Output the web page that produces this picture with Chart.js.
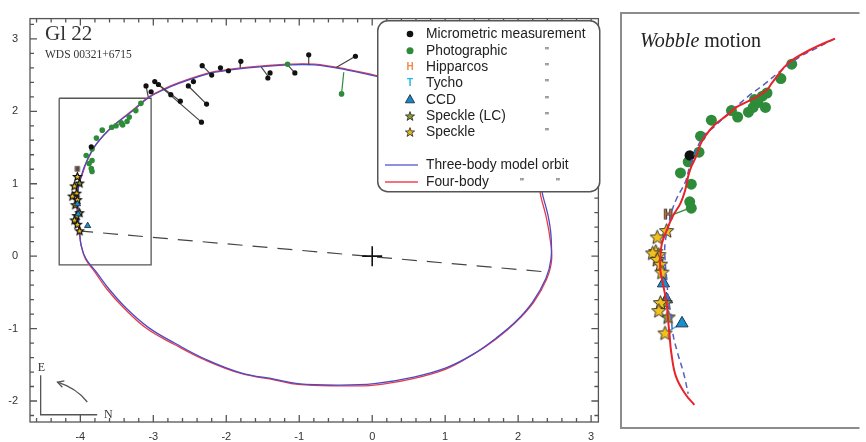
<!DOCTYPE html>
<html lang="en">
<head>
<meta charset="UTF-8">
<title>Gl 22 orbit</title>
<script src="https://cdn.jsdelivr.net/npm/chart.js@4"></script>
<style>
  body { margin: 0; background: #fff; }
  #wrap { position: relative; width: 866px; height: 442px; overflow: hidden;
          font-family: "Liberation Sans", Arial, sans-serif; }
  canvas { position: absolute; top: 0; }
  #orbit { left: 0; }
  #wobble { left: 612px; }
  .lbl { position: absolute; white-space: nowrap; color: #222; }
  .serif { font-family: "Liberation Serif", "Times New Roman", serif; }
  .leg { position: absolute; white-space: nowrap; font-size: 13.8px; line-height: 16px; color: #222; }
  .ditto { position: absolute; font-size: 11px; line-height: 16px; color: #333; }
  #legendBox { position: absolute; left: 377px; top: 20px; }
</style>
</head>
<body>
<div id="wrap">
  <canvas id="orbit" width="610" height="442"></canvas>
  <canvas id="wobble" width="254" height="442"></canvas>

  <div class="lbl serif" style="left:45px;top:23.4px;font-size:21px;line-height:21px;color:#333">Gl 22</div>
  <div class="lbl serif" style="left:45px;top:48.4px;font-size:11.5px;line-height:12px;color:#333">WDS 00321+6715</div>
  <div class="lbl serif" style="left:37.7px;top:360.8px;font-size:12px;line-height:12px;color:#333">E</div>
  <div class="lbl serif" style="left:104px;top:408px;font-size:12px;line-height:12px;color:#333">N</div>

  <svg id="legendBox" width="224" height="174" viewBox="0 0 224 174">
    <rect x="0.75" y="0.75" width="222" height="171" rx="10" ry="10" fill="#fff" stroke="#555" stroke-width="1.5"/>
    <circle cx="33" cy="14" r="3.3" fill="#111"/>
    <circle cx="33" cy="30.7" r="3.5" fill="#2e8b3a"/>
    <text x="33" y="50.3" text-anchor="middle" font-family="Liberation Sans, Arial" font-weight="bold" font-size="10" fill="#f08a4b">H</text>
    <text x="33" y="66.3" text-anchor="middle" font-family="Liberation Sans, Arial" font-weight="bold" font-size="10" fill="#27b5ea">T</text>
    <polygon points="33,74.6 37.6,82.8 28.4,82.8" fill="#1b86c4" stroke="#123" stroke-width="0.8"/>
    <polygon fill="#8d9b35" stroke="#222" stroke-width="0.8"
      points="33,91.6 34.2,94.9 37.6,95.0 34.9,97.1 35.9,100.4 33,98.4 30.1,100.4 31.1,97.1 28.4,95.0 31.8,94.9"/>
    <polygon fill="#e8b820" stroke="#222" stroke-width="0.8"
      points="33,107.6 34.2,110.9 37.6,111.0 34.9,113.1 35.9,116.4 33,114.4 30.1,116.4 31.1,113.1 28.4,111.0 31.8,110.9"/>
    <line x1="8" y1="145" x2="41" y2="145" stroke="#6b6bd6" stroke-width="1.5"/>
    <line x1="8" y1="162" x2="41" y2="162" stroke="#f04650" stroke-width="1.5"/>
  </svg>

  <div class="leg" style="left:426px;top:26.2px">Micrometric measurement</div>
  <div class="leg" style="left:426px;top:42.9px">Photographic</div>
  <div class="leg" style="left:426px;top:58.9px">Hipparcos</div>
  <div class="leg" style="left:426px;top:74.9px">Tycho</div>
  <div class="leg" style="left:426px;top:91.5px">CCD</div>
  <div class="leg" style="left:426px;top:108.2px">Speckle (LC)</div>
  <div class="leg" style="left:426px;top:124.2px">Speckle</div>
  <div class="leg" style="left:426px;top:157.2px">Three-body model orbit</div>
  <div class="leg" style="left:426px;top:174.2px">Four-body</div>
  <div class="ditto" style="left:545px;top:42.9px">"</div>
  <div class="ditto" style="left:545px;top:58.9px">"</div>
  <div class="ditto" style="left:545px;top:74.9px">"</div>
  <div class="ditto" style="left:545px;top:91.5px">"</div>
  <div class="ditto" style="left:545px;top:108.2px">"</div>
  <div class="ditto" style="left:545px;top:124.2px">"</div>
  <div class="ditto" style="left:520px;top:174.2px">"</div>
  <div class="ditto" style="left:556px;top:174.2px">"</div>

  <div class="lbl serif" style="left:640px;top:30.25px;font-size:20px;line-height:20px;color:#222"><i>Wobble</i> motion</div>
</div>

<script>
// ---- main orbit (arcsec) ----
const xTicks = [-4, -3, -2, -1, 0, 1, 2, 3];
const yTicks = [-2, -1, 0, 1, 2, 3];

const orbitThreeBody = [[-4.03,0.56],[-4.03,0.91],[-3.99,1.10],[-3.91,1.32],[-3.78,1.55],[-3.57,1.78],[-3.29,2.00],[-3.06,2.19],[-2.83,2.31],[-2.61,2.40],[-2.38,2.48],[-2.15,2.54],[-1.70,2.60],[-1.16,2.64],[-0.79,2.64],[-0.34,2.57],[0.03,2.49],[0.61,2.38],[1.16,2.20],[1.63,1.96],[2.00,1.62],[2.25,1.21],[2.34,0.83],[2.41,0.56],[2.45,0.29],[2.45,-0.04],[2.38,-0.31],[2.20,-0.63],[1.97,-0.90],[1.70,-1.13],[1.39,-1.35],[1.02,-1.54],[0.57,-1.67],[0.03,-1.76],[-0.48,-1.78],[-1.02,-1.76],[-1.33,-1.70],[-1.80,-1.61],[-2.29,-1.42],[-2.69,-1.21],[-3.06,-0.99],[-3.37,-0.72],[-3.61,-0.45],[-3.78,-0.22],[-3.92,-0.04],[-3.99,0.15],[-4.01,0.37],[-4.03,0.56]];
const orbitFourBody = [[-4.04,0.56],[-4.05,0.91],[-3.98,1.11],[-3.90,1.33],[-3.77,1.56],[-3.56,1.79],[-3.29,2.01],[-3.06,2.20],[-2.83,2.32],[-2.61,2.41],[-2.38,2.49],[-2.15,2.55],[-1.70,2.61],[-1.16,2.65],[-0.79,2.65],[-0.34,2.58],[0.03,2.50],[0.61,2.38],[1.16,2.20],[1.63,1.96],[2.00,1.62],[2.24,1.21],[2.31,0.83],[2.38,0.56],[2.43,0.29],[2.46,-0.04],[2.39,-0.32],[2.21,-0.64],[1.96,-0.92],[1.69,-1.15],[1.38,-1.36],[1.01,-1.56],[0.56,-1.69],[0.03,-1.78],[-0.48,-1.79],[-1.02,-1.77],[-1.33,-1.71],[-1.80,-1.62],[-2.30,-1.43],[-2.71,-1.22],[-3.09,-1.00],[-3.40,-0.72],[-3.64,-0.45],[-3.80,-0.22],[-3.93,-0.04],[-3.99,0.16],[-4.02,0.37],[-4.04,0.56]];

const micrometric = [[-3.10,2.35],[-3.03,2.27],[-2.98,2.41],[-2.93,2.37],[-2.76,2.23],[-2.63,2.14],[-2.34,1.85],[-2.52,2.35],[-2.45,2.41],[-2.27,2.10],[-2.33,2.63],[-2.20,2.50],[-2.08,2.60],[-1.97,2.56],[-1.80,2.69],[-1.43,2.46],[-1.40,2.53],[-1.06,2.53],[-0.87,2.78],[-0.23,2.76],[-3.85,1.51]];
const microResidFrom = [[-2.98,2.41],[-2.93,2.37],[-2.52,2.35],[-2.33,2.63],[-1.80,2.69],[-1.41,2.46],[-1.06,2.53],[-0.87,2.78],[-0.23,2.76],[-3.10,2.35]];
const microResidTo = [[-2.34,1.85],[-2.63,2.14],[-2.27,2.10],[-2.20,2.50],[-1.81,2.60],[-1.52,2.61],[-1.16,2.64],[-0.87,2.64],[-0.50,2.60],[-3.07,2.20]];

const photographic = [[-3.70,1.74],[-3.78,1.63],[-3.84,1.48],[-3.92,1.39],[-3.88,1.28],[-3.84,1.32],[-3.85,1.21],[-3.84,1.17],[-3.57,1.78],[-3.51,1.80],[-3.44,1.84],[-3.42,1.81],[-3.36,1.86],[-3.33,1.92],[-3.24,2.01],[-3.17,2.11],[-0.42,2.24],[-1.16,2.65]];
const photoResidFrom = [[-0.42,2.24]];
const photoResidTo = [[-0.39,2.54]];

const speckle = [[-4.04,1.10],[-4.08,0.97],[-4.05,0.87],[-4.11,0.83],[-4.04,0.78],[-4.07,0.71],[-4.05,0.56],[-4.08,0.50],[-4.04,0.44],[-4.01,0.35]];
const speckleLC = [[-4.01,1.01],[-4.01,0.60]];
const ccd = [[-4.04,0.72],[-4.03,0.58],[-3.90,0.42]];
const hipparcos = [[-4.04,1.22]];

const apsides = [[-4.03,0.35],[2.41,-0.22]];
const centre = [[0,0]];
const wobbleBox = [[-4.29,2.18],[-3.03,2.18],[-3.03,-0.12],[-4.29,-0.12],[-4.29,2.18]];

// ---- wobble close-up ----
const wobbleFourBody = [[-2.91,2.19],[-3.05,2.13],[-3.18,2.06],[-3.24,2.01],[-3.28,1.96],[-3.32,1.91],[-3.35,1.87],[-3.41,1.83],[-3.49,1.79],[-3.55,1.76],[-3.61,1.71],[-3.69,1.65],[-3.75,1.58],[-3.78,1.53],[-3.81,1.45],[-3.84,1.39],[-3.86,1.33],[-3.88,1.24],[-3.91,1.16],[-3.96,1.08],[-4.00,0.99],[-4.03,0.91],[-4.04,0.83],[-4.04,0.74],[-4.02,0.64],[-4.00,0.54],[-3.99,0.43],[-3.98,0.33],[-3.97,0.23],[-3.94,0.08],[-3.88,-0.03],[-3.82,-0.10]];
const wobbleThreeBody = [[-2.91,2.19],[-3.01,2.14],[-3.13,2.08],[-3.26,1.99],[-3.36,1.91],[-3.47,1.83],[-3.59,1.73],[-3.69,1.64],[-3.76,1.58],[-3.81,1.49],[-3.85,1.39],[-3.88,1.29],[-3.93,1.20],[-3.97,1.10],[-3.99,1.01],[-4.01,0.91],[-4.01,0.81],[-4.00,0.70],[-3.99,0.58],[-3.97,0.45],[-3.96,0.35],[-3.93,0.23],[-3.89,0.10],[-3.86,-0.03]];
const wobblePhoto = [[-3.19,2.03],[-3.26,1.94],[-3.35,1.85],[-3.38,1.83],[-3.36,1.76],[-3.43,1.81],[-3.41,1.79],[-3.47,1.73],[-3.44,1.76],[-3.58,1.74],[-3.54,1.70],[-3.71,1.68],[-3.78,1.58],[-3.79,1.48],[-3.86,1.42],[-3.91,1.35],[-3.84,1.28],[-3.85,1.17],[-3.84,1.13]];
const wobbleMicro = [[-3.85,1.46]];
const wobbleHip = [[-3.99,1.09]];
const wobbleSpeckle = [[-4.00,0.99],[-4.06,0.95],[-4.07,0.86],[-4.05,0.84],[-4.09,0.85],[-4.06,0.81],[-4.04,0.78],[-4.03,0.73],[-4.04,0.54],[-4.05,0.49],[-4.01,0.35]];
const wobbleSpeckleLC = [[-4.01,0.54],[-3.99,0.45]];
const wobbleCCD = [[-4.02,0.66],[-4.00,0.56],[-3.90,0.41]];
const wobbleHipLink = [[-3.96,1.09],[-3.85,1.13]];
const wobbleCcdLink = [[-3.90,0.41],[-4.01,0.35]];

Chart.defaults.font.family = '"Liberation Sans", Arial, sans-serif';
Chart.defaults.color = '#333';

const pts = a => a.map(([x, y]) => ({ x, y }));

function starImage(R, fill, stroke, lw) {
  const s = Math.ceil(2 * R + 2 * lw + 2);
  const c = document.createElement('canvas');
  c.width = c.height = s;
  const g = c.getContext('2d');
  g.translate(s / 2, s / 2 + R * 0.08);
  g.beginPath();
  for (let i = 0; i < 10; i++) {
    const r = i % 2 ? R * 0.45 : R;
    const a = -Math.PI / 2 + i * Math.PI / 5;
    g.lineTo(r * Math.cos(a), r * Math.sin(a));
  }
  g.closePath();
  g.fillStyle = fill; g.fill();
  g.lineWidth = lw; g.strokeStyle = stroke; g.stroke();
  return c;
}

function letterImage(ch, size, fill, stroke) {
  const c = document.createElement('canvas');
  c.width = c.height = size + 4;
  const g = c.getContext('2d');
  g.font = 'bold ' + size + 'px "Liberation Sans", Arial';
  g.textAlign = 'center'; g.textBaseline = 'middle';
  g.lineWidth = 1.5; g.strokeStyle = stroke;
  g.strokeText(ch, c.width / 2, c.height / 2 + 1);
  g.fillStyle = fill;
  g.fillText(ch, c.width / 2, c.height / 2 + 1);
  return c;
}

function curve(data, color, width, extra) {
  return Object.assign({ data: pts(data), showLine: true, borderColor: color, borderWidth: width,
    pointRadius: 0, tension: 0.4, fill: false }, extra || {});
}
function marks(data, style, radius, bg, border, bw) {
  return { data: pts(data), showLine: false, pointStyle: style, pointRadius: radius,
    backgroundColor: bg, borderColor: border, borderWidth: bw };
}
function segments(from, to, color) {
  return from.map((p, i) => curve([p, to[i]], color, 1.2, { tension: 0 }));
}

// frame with inward ticks every 0.2", compass rose
const orbitFrame = {
  id: 'orbitFrame',
  afterDraw(chart) {
    const { ctx, chartArea: a, scales: { x, y } } = chart;
    ctx.save();
    ctx.strokeStyle = '#555';
    ctx.lineWidth = 1.3;
    ctx.strokeRect(a.left, a.top, a.right - a.left, a.bottom - a.top);
    ctx.beginPath();
    for (let k = -25; k <= 16; k++) {
      const v = k / 5, px = x.getPixelForValue(v);
      if (px <= a.left + 1 || px >= a.right - 1) continue;
      const len = k % 5 === 0 ? 7 : 4;
      ctx.moveTo(px, a.bottom); ctx.lineTo(px, a.bottom - len);
      ctx.moveTo(px, a.top); ctx.lineTo(px, a.top + len);
    }
    for (let k = -12; k <= 17; k++) {
      const v = k / 5, py = y.getPixelForValue(v);
      if (py <= a.top + 1 || py >= a.bottom - 1) continue;
      const len = k % 5 === 0 ? 7 : 4;
      ctx.moveTo(a.left, py); ctx.lineTo(a.left + len, py);
      ctx.moveTo(a.right, py); ctx.lineTo(a.right - len, py);
    }
    ctx.stroke();

    // E / N directions and sense of motion
    const P = (u, v) => [x.getPixelForValue(u), y.getPixelForValue(v)];
    ctx.strokeStyle = '#555';
    ctx.lineWidth = 1.3;
    ctx.beginPath();
    ctx.moveTo(...P(-4.544, -1.646));
    ctx.lineTo(...P(-4.544, -2.190));
    ctx.lineTo(...P(-3.769, -2.190));
    ctx.stroke();
    const s = P(-3.905, -2.014), c = P(-4.054, -1.823), t = P(-4.313, -1.741);
    ctx.beginPath();
    ctx.moveTo(...s);
    ctx.quadraticCurveTo(c[0], c[1], t[0], t[1]);
    ctx.stroke();
    const ang = Math.atan2(t[1] - c[1], t[0] - c[0]);
    ctx.beginPath();
    ctx.moveTo(t[0] - 7 * Math.cos(ang - 0.5), t[1] - 7 * Math.sin(ang - 0.5));
    ctx.lineTo(t[0], t[1]);
    ctx.lineTo(t[0] - 7 * Math.cos(ang + 0.5), t[1] - 7 * Math.sin(ang + 0.5));
    ctx.stroke();
    ctx.restore();
  }
};

const wobbleFrame = {
  id: 'wobbleFrame',
  afterDraw(chart) {
    const { ctx, chartArea: a } = chart;
    ctx.save();
    ctx.strokeStyle = '#8c8c8c';
    ctx.lineWidth = 2;
    ctx.beginPath();
    ctx.moveTo(a.right + 2, a.top);
    ctx.lineTo(a.left, a.top);
    ctx.lineTo(a.left, a.bottom);
    ctx.lineTo(a.right + 2, a.bottom);
    ctx.stroke();
    ctx.restore();
  }
};

const YELLOW = '#f2c11c', OLIVE = '#8d9b35', GREEN = '#2e8b3a', CCD_BLUE = '#1b8fcc';

new Chart(document.getElementById('orbit'), {
  type: 'scatter',
  data: {
    datasets: [
      marks(hipparcos, letterImage('H', 6, '#8a5a3a', '#333'), 3, '#8a5a3a', '#333', 1),
      marks(ccd, 'triangle', 3.6, CCD_BLUE, '#123', 0.8),
      marks(speckle, starImage(4.2, YELLOW, '#111', 1.2), 4, YELLOW, '#111', 1),
      marks(speckleLC, starImage(4.2, OLIVE, '#111', 1.2), 4, OLIVE, '#111', 1),
      marks(micrometric, 'circle', 2.6, '#111', '#111', 0),
      marks(photographic, 'circle', 2.8, GREEN, GREEN, 0),
      ...segments(photoResidFrom, photoResidTo, GREEN),
      ...segments(microResidFrom, microResidTo, '#444'),
      marks(centre, 'cross', 10, '#111', '#111', 1.6),
      curve(orbitThreeBody, '#4b4bc8', 1.3),
      curve(orbitFourBody, '#ea3a44', 1.3),
      curve(apsides, '#444', 1.2, { tension: 0, borderDash: [15, 10] }),
      curve(wobbleBox, '#555', 1.3, { tension: 0 })
    ]
  },
  options: {
    responsive: false,
    devicePixelRatio: 1,
    animation: false,
    events: [],
    layout: { padding: { top: 13, right: 7, left: 0, bottom: 0 } },
    plugins: { legend: { display: false }, tooltip: { enabled: false } },
    scales: {
      x: {
        type: 'linear', position: 'bottom', min: -4.69, max: 3.1,
        grid: { display: false, drawTicks: false }, border: { display: false },
        ticks: { font: { size: 11 }, color: '#333', padding: 8 },
        afterBuildTicks: s => { s.ticks = xTicks.map(v => ({ value: v })); },
        afterFit: s => { s.height = 20; }
      },
      y: {
        type: 'linear', min: -2.29, max: 3.28,
        grid: { display: false, drawTicks: false }, border: { display: false },
        ticks: { font: { size: 11 }, color: '#333', padding: 12 },
        afterBuildTicks: s => { s.ticks = yTicks.map(v => ({ value: v })); },
        afterFit: s => { s.width = 30; }
      }
    }
  },
  plugins: [orbitFrame]
});

new Chart(document.getElementById('wobble'), {
  type: 'scatter',
  data: {
    datasets: [
      curve(wobbleFourBody, '#e8232a', 2),
      curve(wobbleThreeBody, '#5560c0', 1.5, { borderDash: [6, 4] }),
      marks(wobbleSpeckle, starImage(7.5, YELLOW, '#333', 1), 7.5, YELLOW, '#333', 1),
      marks(wobbleSpeckleLC, starImage(7.5, OLIVE, '#333', 1), 7.5, OLIVE, '#333', 1),
      marks(wobbleCCD, 'triangle', 7, CCD_BLUE, '#1a3550', 1),
      marks(wobbleHip, letterImage('H', 12, '#b8733f', '#222'), 6, '#b8733f', '#222', 1),
      marks(wobbleMicro, 'circle', 5.2, '#111', '#111', 0),
      marks(wobblePhoto, 'circle', 5.5, GREEN, GREEN, 0),
      curve(wobbleHipLink, GREEN, 1.2, { tension: 0 }),
      curve(wobbleCcdLink, '#2aa8e0', 1.2, { tension: 0 })
    ]
  },
  options: {
    responsive: false,
    devicePixelRatio: 1,
    animation: false,
    events: [],
    layout: { padding: { top: 13, right: 0, left: 9, bottom: 14 } },
    plugins: { legend: { display: false }, tooltip: { enabled: false } },
    scales: {
      x: { type: 'linear', display: false, min: -4.295, max: -2.764 },
      y: { type: 'linear', display: false, min: -0.244, max: 2.350 }
    }
  },
  plugins: [wobbleFrame]
});
</script>
</body>
</html>
